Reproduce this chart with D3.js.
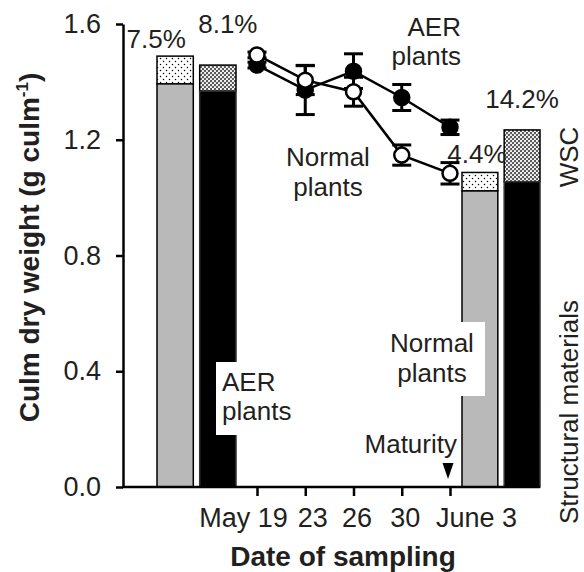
<!DOCTYPE html>
<html><head><meta charset="utf-8">
<script src="https://cdn.jsdelivr.net/npm/d3@7"></script>
<style>
body{margin:0;background:#fff}
text{font-family:"Liberation Sans",Arial,Helvetica,sans-serif;fill:#231f20}
</style>
</head><body>
<svg id="c" width="584" height="572"></svg>
<script>
// ---------- data ----------
const dates = ["May 19", "23", "26", "30", "June 3"];
const normalMean = [1.493, 1.406, 1.366, 1.147, 1.084];
const normalErr  = [0.010, 0.050, 0.050, 0.035, 0.037];
const aerMean    = [1.458, 1.372, 1.437, 1.346, 1.243];
const aerErr     = [0.010, 0.085, 0.060, 0.045, 0.025];
const plants = ["Normal", "AER"];
const structBefore = [1.393, 1.368];
const totalBefore  = [1.489, 1.458];
const structAfter  = [1.023, 1.055];
const totalAfter   = [1.087, 1.234];
const pctBefore = ["7.5%", "8.1%"];
const pctAfter  = ["4.4%", "14.2%"];
const yTicks = [0, 0.4, 0.8, 1.2, 1.6];

// ---------- layout ----------
const L = 123, R = 540, T = 24, B = 487;
const svg = d3.select("#c");
const y = d3.scaleLinear().domain([0, 1.6]).range([B, T]);
const x = d3.scalePoint().domain(dates).range([257, 450]);
const preX = d3.scaleBand().domain(plants).range([157, 236]).paddingInner(0.15);
const postX = d3.scaleBand().domain(plants).range([462, 540]).paddingInner(0.15);

// patterns
const defs = svg.append("defs");
const p1 = defs.append("pattern").attr("id", "dots").attr("patternUnits", "userSpaceOnUse")
  .attr("width", 6).attr("height", 6);
p1.append("rect").attr("width", 6).attr("height", 6).attr("fill", "#fff");
p1.append("circle").attr("cx", 1.5).attr("cy", 1.5).attr("r", 0.75).attr("fill", "#000");
p1.append("circle").attr("cx", 4.5).attr("cy", 4.5).attr("r", 0.75).attr("fill", "#000");
const p2 = defs.append("pattern").attr("id", "check").attr("patternUnits", "userSpaceOnUse")
  .attr("width", 4).attr("height", 4);
p2.append("rect").attr("width", 4).attr("height", 4).attr("fill", "#5a5a5a");
p2.append("circle").attr("cx", 1).attr("cy", 1).attr("r", 1.1).attr("fill", "#fff");
p2.append("circle").attr("cx", 3).attr("cy", 3).attr("r", 1.1).attr("fill", "#fff");

const structFill = ["#b9b9b9", "#000"];
const wscFill = ["url(#dots)", "url(#check)"];

function drawBars(scale, structV, totalV) {
  plants.forEach((p, i) => {
    const x0 = scale(p), w = scale.bandwidth();
    svg.append("rect").attr("x", x0).attr("y", y(totalV[i])).attr("width", w)
      .attr("height", y(structV[i]) - y(totalV[i]))
      .attr("fill", wscFill[i]).attr("stroke", "#000").attr("stroke-width", 1.5);
    svg.append("rect").attr("x", x0).attr("y", y(structV[i])).attr("width", w)
      .attr("height", y(0) - y(structV[i]))
      .attr("fill", structFill[i]).attr("stroke", i ? "#333" : "#000").attr("stroke-width", 1.5);
  });
}
drawBars(preX, structBefore, totalBefore);
drawBars(postX, structAfter, totalAfter);

// percent labels
const pctOffBefore = [[-19, -8], [10, -32]];
const pctOffAfter = [[-3, -9], [0, -22]];
function pctLabels(scale, totalV, labels, offs) {
  plants.forEach((p, i) => {
    svg.append("text").attr("x", scale(p) + scale.bandwidth() / 2 + offs[i][0])
      .attr("y", y(totalV[i]) + offs[i][1]).attr("text-anchor", "middle")
      .attr("font-size", 26).text(labels[i]);
  });
}
pctLabels(preX, totalBefore, pctBefore, pctOffBefore);
pctLabels(postX, totalAfter, pctAfter, pctOffAfter);

// white label boxes inside plot
svg.append("rect").attr("x", 216).attr("y", 362).attr("width", 84).attr("height", 73).attr("fill", "#fff");
svg.append("rect").attr("x", 380).attr("y", 322).attr("width", 105).attr("height", 74).attr("fill", "#fff");

// axes
const yAx = svg.append("g").attr("transform", `translate(${L},0)`)
  .call(d3.axisLeft(y).tickValues(yTicks).tickFormat(d3.format(".1f")).tickSize(7).tickSizeOuter(0).tickPadding(15));
yAx.selectAll("path,line").attr("stroke", "#000").attr("stroke-width", 2.5);
yAx.selectAll("text").attr("font-size", 27).attr("font-family", "Liberation Sans, Arial, sans-serif").attr("fill", "#231f20");

svg.append("line").attr("x1", L - 1).attr("x2", R).attr("y1", B).attr("y2", B)
  .attr("stroke", "#000").attr("stroke-width", 2.5);
const labelDx = [-14, 7, 3, 3, 26];
const xAx = svg.append("g").attr("transform", `translate(0,${B})`)
  .call(d3.axisBottom(x).tickSize(9).tickSizeOuter(0));
xAx.select(".domain").remove();
xAx.selectAll("line").attr("stroke", "#000").attr("stroke-width", 2.5);
xAx.selectAll("text").attr("font-size", 27).attr("font-family", "Liberation Sans, Arial, sans-serif")
  .attr("fill", "#231f20").attr("y", 40).attr("dy", 0)
  .attr("dx", (d, i) => labelDx[i]);

// axis titles
svg.append("text").attr("transform", `translate(39,${(T + B) / 2 - 8}) rotate(-90)`)
  .attr("text-anchor", "middle").attr("font-size", 28).attr("font-weight", "bold")
  .html('Culm dry weight (g culm<tspan font-size="17" dy="-11">-1</tspan><tspan dy="11">)</tspan>');
svg.append("text").attr("x", 343).attr("y", 566).attr("text-anchor", "middle")
  .attr("font-size", 28).attr("font-weight", "bold").text("Date of sampling");

// lines, error bars, points
const line = d3.line().x((d, i) => x(dates[i])).y(d => y(d));
function series(mean, err, fill) {
  svg.append("path").datum(mean).attr("d", line).attr("fill", "none")
    .attr("stroke", "#000").attr("stroke-width", 2.5);
  const g = svg.append("g");
  mean.forEach((m, i) => {
    const cx = x(dates[i]);
    g.append("line").attr("x1", cx).attr("x2", cx).attr("y1", y(m - err[i])).attr("y2", y(m + err[i]))
      .attr("stroke", "#000").attr("stroke-width", 3);
    [m - err[i], m + err[i]].forEach(v => {
      g.append("line").attr("x1", cx - 9.5).attr("x2", cx + 9.5).attr("y1", y(v)).attr("y2", y(v))
        .attr("stroke", "#000").attr("stroke-width", 3);
    });
  });
  return () => mean.forEach((m, i) => {
    svg.append("circle").attr("cx", x(dates[i])).attr("cy", y(m)).attr("r", 7.5)
      .attr("fill", fill).attr("stroke", "#000").attr("stroke-width", 2.5);
  });
}
const dA = series(aerMean, aerErr, "#000");
const dN = series(normalMean, normalErr, "#fff");
dA(); dN();

// annotations
function label(lines, xx, yy, anchor, lh) {
  const t = svg.append("text").attr("x", xx).attr("y", yy).attr("text-anchor", anchor).attr("font-size", 26);
  lines.forEach((s, i) => t.append("tspan").attr("x", xx).attr("dy", i ? lh : 0).text(s));
}
label(["AER", "plants"], 461, 36, "end", 29);
label(["Normal", "plants"], 328, 166, "middle", 30);
label(["AER", "plants"], 222, 391, "start", 29);
label(["Normal", "plants"], 432, 352, "middle", 30);
label(["Maturity"], x("June 3") + 7, B - 34, "end", 0);
const tx = x("June 3") - 2, ty = B - 8;
svg.append("path").attr("d", `M${tx - 5.5},${ty - 16}L${tx + 5.5},${ty - 16}L${tx},${ty}Z`).attr("fill", "#000");

svg.append("text").attr("transform", "translate(578,157) rotate(-90)").attr("text-anchor", "middle")
  .attr("font-size", 26).text("WSC");
svg.append("text").attr("transform", "translate(578,412) rotate(-90)").attr("text-anchor", "middle")
  .attr("font-size", 26).text("Structural materials");
</script>
</body></html>
